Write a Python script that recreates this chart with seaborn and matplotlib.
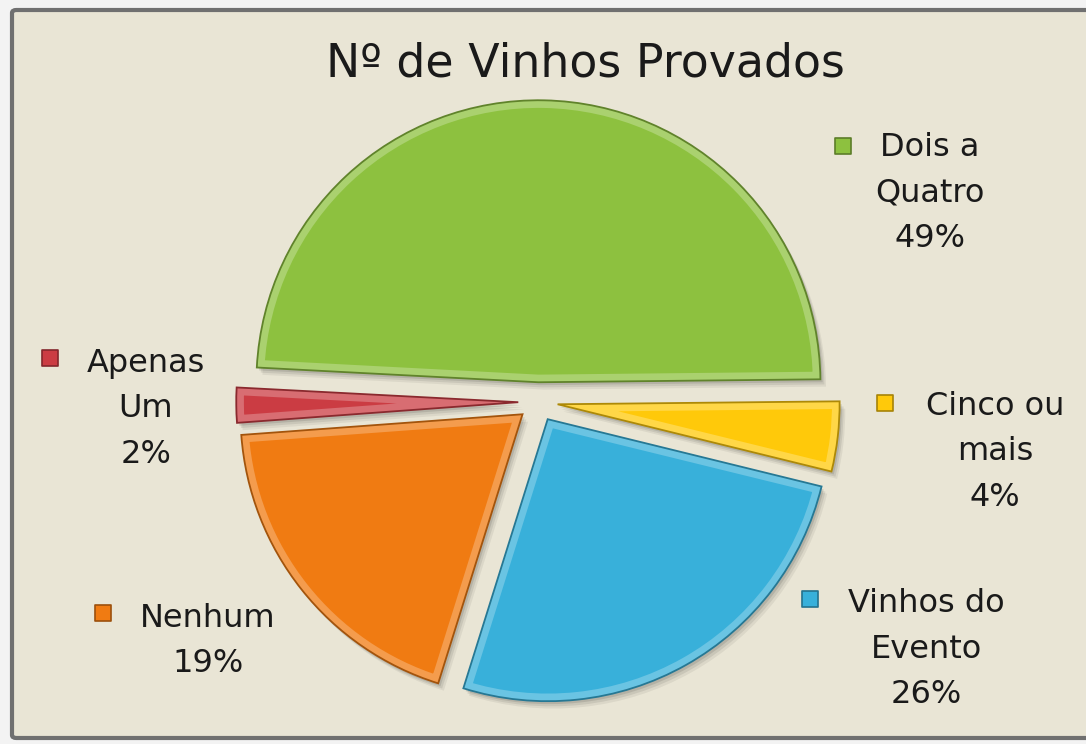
import matplotlib
matplotlib.use("Agg")
import matplotlib.pyplot as plt
import seaborn as sns
from matplotlib.patches import FancyBboxPatch, Wedge
import matplotlib.colors as mcolors

# ---- data ----
categories = ["Dois a\nQuatro", "Cinco ou\nmais", "Vinhos do\nEvento", "Nenhum", "Apenas\nUm"]
values = [49, 4, 26, 19, 2]
colors = ["#8DC13F", "#FFC90A", "#38B0DA", "#F07B12", "#CB3C43"]
title = "Nº de Vinhos Provados"

sns.set_theme(style="white")
plt.rcParams["font.family"] = ["DejaVu Sans"]


def lighten(c, f):
    r = mcolors.to_rgb(c)
    return tuple(min(1, v + (1 - v) * f) for v in r)


def darken(c, f):
    r = mcolors.to_rgb(c)
    return tuple(v * f for v in r)


W, H = 1086, 744
fig = plt.figure(figsize=(W / 100, H / 100), dpi=100)
fig.patch.set_facecolor("#F3F3F3")

# frame
frame = FancyBboxPatch((12 / W, 6 / H), (W + 40) / W, (728) / H,
                       boxstyle="round,pad=0,rounding_size=0.004",
                       transform=fig.transFigure, facecolor="#E9E5D5",
                       edgecolor="#707070", linewidth=3, zorder=-10)
fig.patches.append(frame)

# axes covering whole figure, 1 data unit = R px, pie centre at (cx, cy) px from top-left
R = 282.0
cx, cy = 538.0, 402.0
ax = fig.add_axes([0, 0, 1, 1], zorder=1)
ax.set_facecolor("none")
ax.patch.set_alpha(0)
ax.axis("off")
ax.set_xlim(-cx / R, (W - cx) / R)
ax.set_ylim(-(H - cy) / R, cy / R)
ax.set_aspect("equal")

explode = [0.07] * len(values)
start = 177

# soft shadow
for k, a in [(0.020, 0.06), (0.014, 0.08), (0.008, 0.10)]:
    ax.pie(values, explode=explode, startangle=start, counterclock=False,
           colors=[(0, 0, 0, a)] * len(values), radius=1.0,
           center=(k, -k * 1.3), wedgeprops=dict(linewidth=0))

# main wedges with a lighter bevel band clipped inside each wedge
wedges, _ = ax.pie(values, explode=explode, startangle=start, counterclock=False,
                   colors=colors, radius=1.0,
                   wedgeprops=dict(linewidth=11))
for w, c in zip(wedges, colors):
    w.set_edgecolor(lighten(c, 0.25))
    clip = Wedge(w.center, w.r, w.theta1, w.theta2, transform=ax.transData)
    w.set_clip_on(True)
    w.set_clip_path(clip)

# dark outline
outl, _ = ax.pie(values, explode=explode, startangle=start, counterclock=False,
                 colors=colors, radius=1.0, wedgeprops=dict(linewidth=1.3))
for w, c in zip(outl, colors):
    w.set_facecolor("none")
    w.set_edgecolor(darken(c, 0.68))

ax.set_xlim(-cx / R, (W - cx) / R)
ax.set_ylim(-(H - cy) / R, cy / R)
ax.set_aspect("equal")

fig.text(585 / W, 1 - 64 / H, title, ha="center", va="center",
         fontsize=33, color="#1a1a1a", zorder=5)

# labels: (block centre x, block centre y, marker x, marker y) in px from top-left
label_pos = [
    (930, 193, 843, 146),
    (995, 452, 885, 403),
    (926, 649, 810, 599),
    (208, 641, 103, 613),
    (146, 409, 50, 358),
]
pcts = [f"{v}%" for v in values]
for (tx, ty, mx, my), cat, pct, c in zip(label_pos, categories, pcts, colors):
    fig.text(tx / W, 1 - ty / H, f"{cat}\n{pct}", ha="center", va="center",
             fontsize=23, color="#1a1a1a", linespacing=1.6, zorder=5)
    ax.scatter([(mx - cx) / R], [(cy - my) / R], marker="s", s=140,
               color=c, edgecolor=darken(c, 0.65), linewidth=1.2, zorder=5)

fig.savefig("out.png", dpi=100, facecolor=fig.get_facecolor())
